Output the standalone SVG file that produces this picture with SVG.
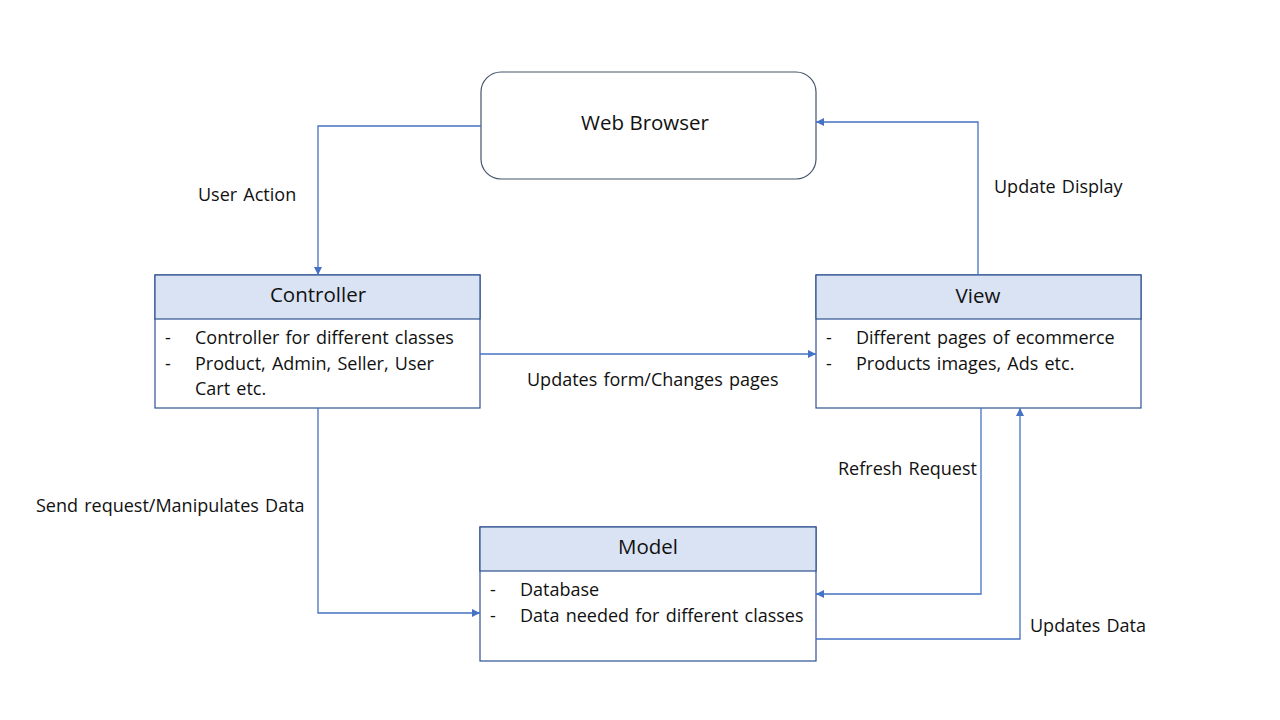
<svg xmlns="http://www.w3.org/2000/svg" width="1280" height="720" viewBox="0 0 1280 720">
<defs>
<marker id="arr" viewBox="0 0 10 10" refX="10" refY="5" markerWidth="8" markerHeight="8" markerUnits="userSpaceOnUse" orient="auto">
<path d="M0,0 L10,5 L0,10 z" fill="#4472C4"/>
</marker>
<style>
text{font-family:"Open Sans","Noto Sans","DejaVu Sans",sans-serif;fill:#111;}
.box{fill:#fff;stroke:#2F528F;stroke-width:1.2;}
.hdr{fill:#DAE3F3;stroke:#2F528F;stroke-width:1.2;}
.title{font-size:20.5px;text-anchor:middle;}
.item{font-size:18px;word-spacing:1.5px;}
.lbl{font-size:18px;word-spacing:1.5px;}
.conn{fill:none;stroke:#4472C4;stroke-width:1.3;marker-end:url(#arr);}
</style>
</defs>
<rect width="1280" height="720" fill="#fff"/>
<g id="web-browser">
<rect x="481" y="72" width="335" height="107" rx="20" ry="20" fill="#fff" stroke="#44546A" stroke-width="1.2"/>
<text class="title" x="645" y="130">Web Browser</text>
</g>
<g id="controller">
<rect class="box" x="155" y="275" width="325" height="133"/>
<rect class="hdr" x="155" y="275" width="325" height="44"/>
<text class="title" x="318" y="302">Controller</text>
<text class="item" x="165" y="344">-</text>
<text class="item" x="195" y="344">Controller for different classes</text>
<text class="item" x="165" y="370">-</text>
<text class="item" x="195" y="370">Product, Admin, Seller, User</text>
<text class="item" x="195" y="395">Cart etc.</text>
</g>
<g id="view">
<rect class="box" x="816" y="275" width="325" height="133"/>
<rect class="hdr" x="816" y="275" width="325" height="44"/>
<text class="title" x="978" y="303">View</text>
<text class="item" x="826" y="344">-</text>
<text class="item" x="856" y="344">Different  pages of ecommerce</text>
<text class="item" x="826" y="370">-</text>
<text class="item" x="856" y="370">Products images, Ads etc.</text>
</g>
<g id="model">
<rect class="box" x="480" y="527" width="336" height="134"/>
<rect class="hdr" x="480" y="527" width="336" height="44"/>
<text class="title" x="648" y="554">Model</text>
<text class="item" x="490" y="596">-</text>
<text class="item" x="520" y="596">Database</text>
<text class="item" x="490" y="622">-</text>
<text class="item" x="520" y="622">Data needed for different classes</text>
</g>
<g id="connectors">
<path class="conn" d="M481,126 H318 V275"/>
<path class="conn" d="M480,354 H816"/>
<path class="conn" d="M978,275 V122 H816"/>
<path class="conn" d="M318,408 V613 H480"/>
<path class="conn" d="M981,408 V594 H816"/>
<path class="conn" d="M816,639 H1020 V408"/>
<text class="lbl" x="198" y="201">User Action</text>
<text class="lbl" x="994" y="193">Update Display</text>
<text class="lbl" x="527" y="386">Updates form/Changes pages</text>
<text class="lbl" x="36" y="512">Send request/Manipulates Data</text>
<text class="lbl" x="838" y="475">Refresh Request</text>
<text class="lbl" x="1030" y="632">Updates Data</text>
</g>
</svg>
